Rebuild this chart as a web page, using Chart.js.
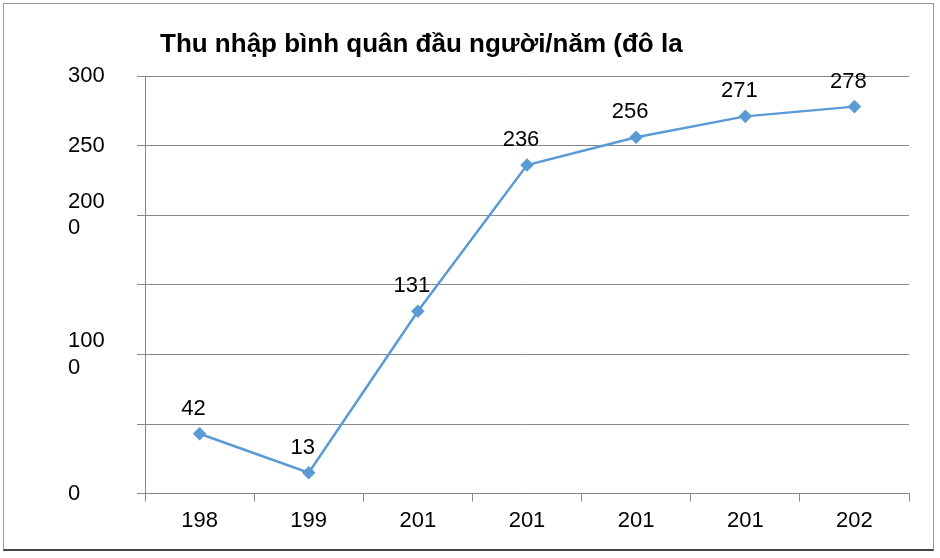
<!DOCTYPE html>
<html>
<head>
<meta charset="utf-8">
<script src="https://cdn.jsdelivr.net/npm/chart.js@4"></script>
<style>
  body{margin:0;background:#fff;}
  #wrap{position:relative;width:940px;height:558px;}
  #frame{position:absolute;left:3px;top:3px;width:929px;height:545px;border:1px solid #999;border-bottom:2px solid #444;pointer-events:none;}
</style>
</head>
<body>
<div id="wrap"><canvas id="c" width="940" height="558"></canvas><div id="frame"></div></div>
<script>
// categories, values and labels as they appear (text truncated in the original picture)
const categories = ['198', '199', '201', '201', '201', '201', '202'];
const values = [430, 150, 1310, 2360, 2560, 2710, 2780];
const pointLabels = ['42', '13', '131', '236', '256', '271', '278'];
const yTickLabels = { 0: '0', 500: '', 1000: ['100', '0'], 1500: '', 2000: ['200', '0'], 2500: '250', 3000: '300' };
const titleText = 'Thu nhập bình quân đầu người/năm (đô la';

const font = 'Liberation Sans, Arial, sans-serif';

const textPlugin = {
  id: 'texts',
  afterDatasetsDraw(chart){
    const ctx = chart.ctx;
    const meta = chart.getDatasetMeta(0);
    ctx.save();
    ctx.font = '22px ' + font;
    ctx.fillStyle = '#000';
    ctx.textAlign = 'center';
    ctx.textBaseline = 'bottom';
    meta.data.forEach((p, i) => {
      ctx.fillText(pointLabels[i], p.x - 6, p.y - 14);
    });
    ctx.font = 'bold 26px ' + font;
    ctx.textAlign = 'left';
    ctx.textBaseline = 'alphabetic';
    ctx.fillText(titleText, 160, 52);
    ctx.restore();
  }
};

new Chart(document.getElementById('c'), {
  type: 'line',
  data: {
    labels: categories,
    datasets: [{
      data: values,
      borderColor: '#5b9bd5',
      backgroundColor: '#5b9bd5',
      borderWidth: 2.5,
      pointStyle: 'rectRot',
      pointRadius: 5,
      tension: 0
    }]
  },
  options: {
    animation: false,
    responsive: false,
    layout: { padding: { left: 68, right: 31, top: 76, bottom: 18 } },
    plugins: {
      legend: { display: false },
      tooltip: { enabled: false }
    },
    scales: {
      x: {
        offset: true,
        grid: { offset: true, drawOnChartArea: false, color: '#888', tickLength: 8 },
        border: { color: '#888' },
        ticks: { color: '#000', font: { family: font, size: 22 }, padding: 6 }
      },
      y: {
        min: 0, max: 3000,
        afterFit(s){ s.width = 77; },
        grid: { color: '#888', tickLength: 8 },
        border: { color: '#888' },
        ticks: {
          stepSize: 500,
          crossAlign: 'far',
          color: '#000',
          font: { family: font, size: 22 },
          callback: v => yTickLabels[v]
        }
      }
    }
  },
  plugins: [textPlugin]
});
</script>
</body>
</html>
